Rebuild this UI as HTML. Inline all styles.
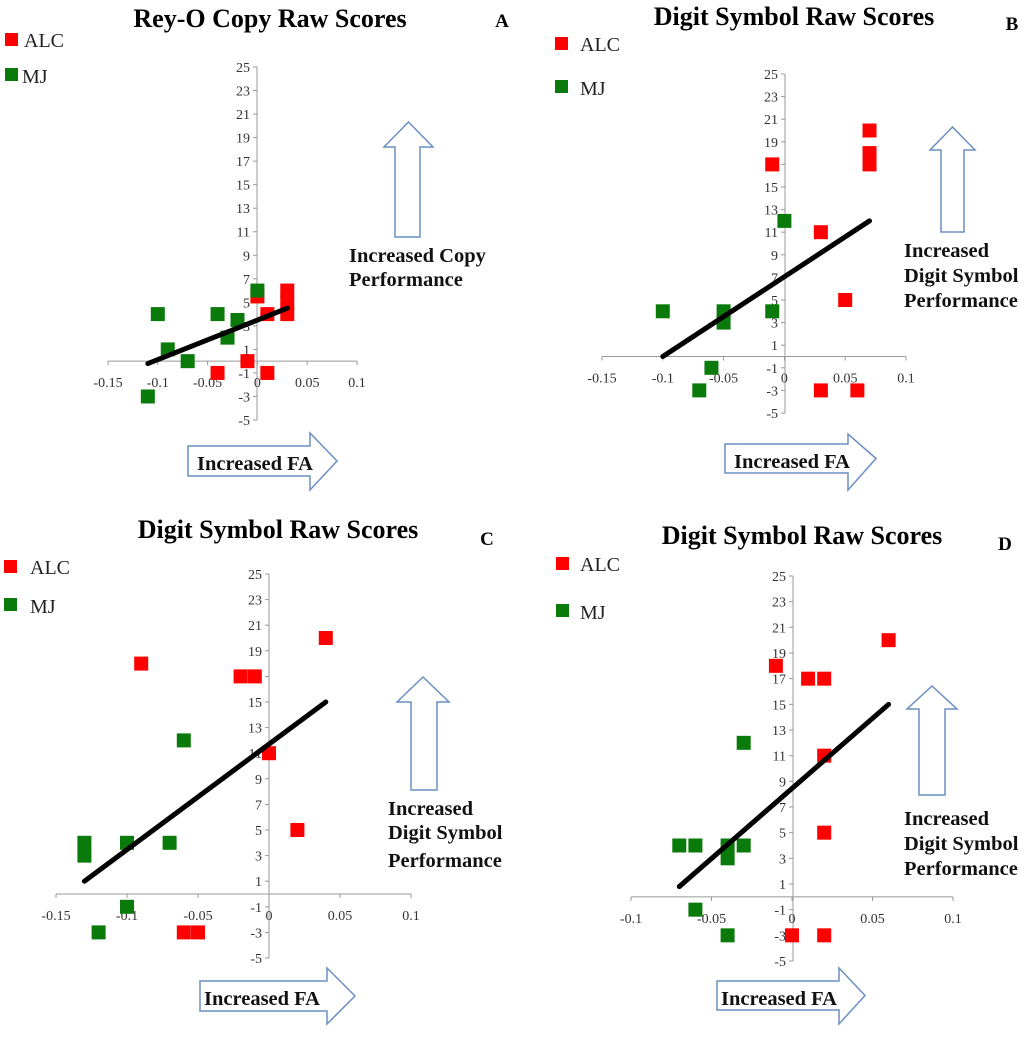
<!DOCTYPE html>
<html><head><meta charset="utf-8">
<style>
body{margin:0;background:#fff;}
svg{display:block;}
svg text{font-family:"Liberation Serif","Times New Roman",serif;}
</style></head>
<body>
<svg id="s" width="1024" height="1049" viewBox="0 0 1024 1049" xmlns="http://www.w3.org/2000/svg"></svg>
<script>
const titles=["Rey-O Copy Raw Scores","Digit Symbol Raw Scores","Digit Symbol Raw Scores","Digit Symbol Raw Scores"];
const letters=["A","B","C","D"];
const yTicks=[-5,-3,-1,1,3,5,7,9,11,13,15,17,19,21,23,25];
const xTicksABC=[-0.15,-0.1,-0.05,0,0.05,0.1];
const xTicksD=[-0.1,-0.05,0,0.05,0.1];
const alcA=[[0,5.5],[0.03,6],[0.03,5],[0.03,4],[0.01,4],[-0.01,0],[-0.04,-1],[0.01,-1]];
const mjA=[[0,6],[-0.1,4],[-0.04,4],[-0.02,3.5],[-0.03,2],[-0.09,1],[-0.07,0],[-0.11,-3]];
const fitA=[[-0.11,-0.2],[0.03,4.5]];
const alcB=[[-0.01,17],[0.07,20],[0.07,18],[0.07,17],[0.03,11],[0.05,5],[0.03,-3],[0.06,-3]];
const mjB=[[0,12],[-0.1,4],[-0.05,4],[-0.05,3],[-0.01,4],[-0.06,-1],[-0.07,-3]];
const fitB=[[-0.1,0],[0.07,12]];
const alcC=[[-0.09,18],[0.04,20],[-0.02,17],[-0.01,17],[0,11],[0.02,5],[-0.06,-3],[-0.05,-3]];
const mjC=[[-0.13,4],[-0.13,3],[-0.1,4],[-0.07,4],[-0.06,12],[-0.1,-1],[-0.12,-3]];
const fitC=[[-0.13,1],[0.04,15]];
const alcD=[[-0.01,18],[0.01,17],[0.02,17],[0.06,20],[0.02,11],[0.02,5],[0,-3],[0.02,-3]];
const mjD=[[-0.03,12],[-0.07,4],[-0.06,4],[-0.04,4],[-0.04,3],[-0.03,4],[-0.06,-1],[-0.04,-3]];
const fitD=[[-0.07,0.8],[0.06,15]];

const NS="http://www.w3.org/2000/svg";
const svg=document.getElementById('s');
function mk(tag,attrs,parent,txt){const e=document.createElementNS(NS,tag);for(const k in attrs)e.setAttribute(k,attrs[k]);if(txt!==undefined)e.textContent=txt;(parent||svg).appendChild(e);return e;}

const panels=[
 {alc:alcA,mj:mjA,fit:fitA,xt:xTicksABC,x0:108,x1:357,xmin:-0.15,xmax:0.1,ax:257,yTop:67,yBot:420,
  title:[270,26],letter:[502,27],leg:[5,33,24,68],
  up:[384,433,122,147,395,420,237],upText:[[349,262,"Increased Copy"],[349,286,"Performance"]],
  right:[188,310,446,476,337,433,490],faX:255,faY:469},
 {alc:alcB,mj:mjB,fit:fitB,xt:xTicksABC,x0:602,x1:906,xmin:-0.15,xmax:0.1,ax:785,yTop:74,yBot:413,
  title:[794,24],letter:[1012,30],leg:[555,37,580,80],
  up:[930,975,127,150,941,964,232],upText:[[904,257,"Increased"],[904,282,"Digit Symbol"],[904,307,"Performance"]],
  right:[725,848,444,473,876,434,490],faX:792,faY:467},
 {alc:alcC,mj:mjC,fit:fitC,xt:xTicksABC,x0:56,x1:411,xmin:-0.15,xmax:0.1,ax:269,yTop:574,yBot:958,
  title:[278,537],letter:[487,545],leg:[4,560,30,598],
  up:[397,449,677,702,411,437,790],upText:[[388,815,"Increased"],[388,839,"Digit Symbol"],[388,867,"Performance"]],
  right:[200,327,981,1011,355,968,1024],faX:262,faY:1004},
 {alc:alcD,mj:mjD,fit:fitD,xt:xTicksD,x0:631,x1:953,xmin:-0.1,xmax:0.1,ax:793,yTop:576,yBot:961,
  title:[802,543],letter:[1005,550],leg:[556,557,580,604],
  up:[907,957,686,709,919,945,795],upText:[[904,825,"Increased"],[904,850,"Digit Symbol"],[904,875,"Performance"]],
  right:[717,839,981,1010,865,968,1024],faX:779,faY:1004}
];
const FF='"Liberation Serif", serif';

panels.forEach((p,i)=>{
 const g=mk('g',{});
 
 
 const X=v=>p.x0+(v-p.xmin)/(p.xmax-p.xmin)*(p.x1-p.x0);
 const Y=v=>p.yBot-(v+5)/30*(p.yBot-p.yTop);
 const y0=Y(0);
 const t=mk('text',{x:p.title[0],y:p.title[1]+1,'text-anchor':'middle','font-size':26,'font-weight':'bold',fill:'#000','font-family':FF},g,titles[i]);
 
 
 const l=mk('text',{x:p.letter[0],y:p.letter[1],'text-anchor':'middle','font-size':19,'font-weight':'bold',fill:'#000','font-family':FF},g,letters[i]);
 
 
 const lr=mk('rect',{x:p.leg[0],y:p.leg[1],width:13,height:13,fill:'#ff0000'},g);
 
 
 const lt=mk('text',{x:p.leg[2],y:p.leg[1]+14,'font-size':20,fill:'#222','font-family':FF},g,'ALC');
 
 
 const lg=mk('rect',{x:p.leg[0],y:p.leg[3],width:13,height:13,fill:'#0a7a0a'},g);
 
 
 const lgt=mk('text',{x:p.leg[2]-(i==0?2:0),y:p.leg[3]+15,'font-size':20,fill:'#222','font-family':FF},g,'MJ');
 
 
 const ya=mk('line',{x1:p.ax,y1:p.yTop,x2:p.ax,y2:p.yBot,stroke:'#999','stroke-width':1},g);
 
 
 const xa=mk('line',{x1:p.x0,y1:y0,x2:p.x1,y2:y0,stroke:'#999','stroke-width':1},g);
 
 
 yTicks.forEach(v=>{
  mk('line',{x1:p.ax-4,y1:Y(v),x2:p.ax,y2:Y(v),stroke:'#999'},g);
  const tl=mk('text',{x:p.ax-7,y:Y(v)+5,'text-anchor':'end','font-size':14,fill:'#333','font-family':FF},g,String(v));
  
  
 });
 p.xt.forEach(v=>{
  mk('line',{x1:X(v),y1:y0,x2:X(v),y2:y0+4,stroke:'#999'},g);
  const tl=mk('text',{x:X(v),y:y0+26,'text-anchor':'middle','font-size':14,fill:'#333','font-family':FF},g,String(v));
  
  
 });
 p.alc.forEach(d=>{
  const r=mk('rect',{x:X(d[0])-7,y:Y(d[1])-7,width:14,height:14,fill:'#ff0000'},g);
  
  
 });
 p.mj.forEach(d=>{
  const r=mk('rect',{x:X(d[0])-7,y:Y(d[1])-7,width:14,height:14,fill:'#0a7a0a'},g);
  
  
 });
 const fl=mk('line',{x1:X(p.fit[0][0]),y1:Y(p.fit[0][1]),x2:X(p.fit[1][0]),y2:Y(p.fit[1][1]),stroke:'#000','stroke-width':5,'stroke-linecap':'round'},g);
 
 
 const u=p.up;const cx=(u[0]+u[1])/2;
 const ua=mk('polygon',{points:`${cx},${u[2]} ${u[1]},${u[3]} ${u[5]},${u[3]} ${u[5]},${u[6]} ${u[4]},${u[6]} ${u[4]},${u[3]} ${u[0]},${u[3]}`,fill:'#fff',stroke:'#6a8fc4','stroke-width':1.5},g);
 
 
 p.upText.forEach(tx=>{
  const e=mk('text',{x:tx[0],y:tx[1],'font-size':20.5,'font-weight':'bold',fill:'#111','font-family':FF},g,tx[2]);
  
  
 });
 const r=p.right;
 const ra=mk('polygon',{points:`${r[0]},${r[2]} ${r[1]},${r[2]} ${r[1]},${r[5]} ${r[4]},${(r[2]+r[3])/2} ${r[1]},${r[6]} ${r[1]},${r[3]} ${r[0]},${r[3]}`,fill:'#fff',stroke:'#6a8fc4','stroke-width':1.5},g);
 
 
 const ft=mk('text',{x:p.faX,y:p.faY+1,'text-anchor':'middle','font-size':20.5,'font-weight':'bold',fill:'#111','font-family':FF},g,'Increased FA');
 
 
});
</script>
</body></html>
